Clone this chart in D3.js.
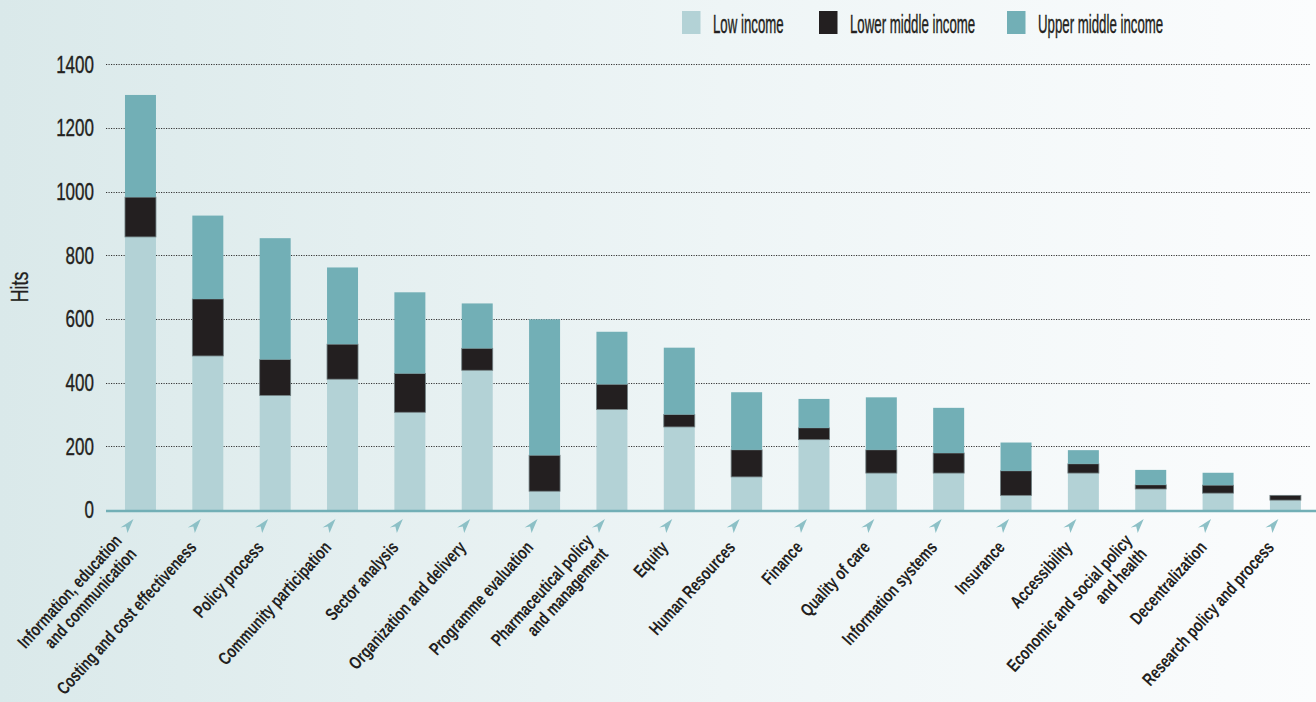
<!DOCTYPE html>
<html>
<head>
<meta charset="utf-8">
<script src="https://cdn.jsdelivr.net/npm/d3@7"></script>
<style>
  html, body { margin: 0; padding: 0; background: #ffffff; }
  svg { display: block; }
</style>
</head>
<body>
<svg id="chart" width="1316" height="702"></svg>
<script>
// ---- data ----
const categories = [
  ["Information, education", "and communication"],
  ["Costing and cost effectiveness"],
  ["Policy process"],
  ["Community participation"],
  ["Sector analysis"],
  ["Organization and delivery"],
  ["Programme evaluation"],
  ["Pharmaceutical policy", "and management"],
  ["Equity"],
  ["Human Resources"],
  ["Finance"],
  ["Quality of care"],
  ["Information systems"],
  ["Insurance"],
  ["Accessibility"],
  ["Economic and social policy", "and health"],
  ["Decentralization"],
  ["Research policy and process"]
];
const lowIncome         = [858, 484, 360, 411, 307, 439, 59, 316, 261, 104, 221, 116, 116, 46, 116, 66, 53, 31];
const lowerMiddleIncome = [125, 179, 113, 110, 122, 69, 113, 79, 39, 85, 37, 73, 63, 77, 29, 13, 25, 15];
const upperMiddleIncome = [321, 262, 381, 241, 255, 141, 427, 165, 210, 181, 91, 165, 142, 89, 43, 47, 39, 0];
const seriesNames = ["Low income", "Lower middle income", "Upper middle income"];
const yTicks = [0, 200, 400, 600, 800, 1000, 1200, 1400];
const yLabel = "Hits";

// ---- styling ----
const colors = ["#b3d2d6", "#231f20", "#72afb6"];
const FONT = "'Liberation Sans Narrow', 'Liberation Sans', Arial, sans-serif";
const W = 1316, H = 702;
const svg = d3.select("#chart");

// background gradient
const defs = svg.append("defs");
const grad = defs.append("linearGradient").attr("id", "bg").attr("x1", "0").attr("x2", "1").attr("y1", "0").attr("y2", "0");
grad.append("stop").attr("offset", "0%").attr("stop-color", "#dae9ea");
grad.append("stop").attr("offset", "55%").attr("stop-color", "#eef5f6");
grad.append("stop").attr("offset", "100%").attr("stop-color", "#fbfcfd");
svg.append("rect").attr("width", W).attr("height", H).attr("fill", "url(#bg)");

// ---- scales ----
const x = d3.scaleBand()
  .domain(d3.range(categories.length))
  .range([106.8, 1319.1])
  .paddingInner(0.54)
  .paddingOuter(0.27);
const y = d3.scaleLinear().domain([0, 1400]).range([510, 64.4]);

// ---- gridlines ----
svg.append("g").selectAll("line")
  .data(yTicks.filter(d => d > 0))
  .join("line")
  .attr("x1", 106).attr("x2", 1311)
  .attr("y1", d => Math.round(y(d)) + 0.5).attr("y2", d => Math.round(y(d)) + 0.5)
  .attr("stroke", "#333")
  .attr("stroke-width", 1)
  .attr("stroke-dasharray", "1.2,1.3");

// ---- y tick labels ----
const yt = svg.append("g").selectAll("g")
  .data(yTicks)
  .join("g")
  .attr("transform", d => `translate(94,${y(d)})`);
yt.append("text")
  .attr("transform", "scale(0.74,1)")
  .attr("text-anchor", "end")
  .attr("dy", "0.36em")
  .attr("font-family", FONT)
  .attr("font-size", 23)
  .attr("fill", "#231f20")
  .attr("stroke", "#231f20")
  .attr("stroke-width", 0.35)
  .text(d => d);

// y axis title
svg.append("text")
  .attr("transform", `translate(28,287) rotate(-90) scale(0.74,1)`)
  .attr("text-anchor", "middle")
  .attr("font-family", FONT)
  .attr("font-size", 24)
  .attr("fill", "#231f20")
  .attr("stroke", "#231f20")
  .attr("stroke-width", 0.3)
  .text(yLabel);

// ---- stacked bars ----
const rows = categories.map((c, i) => ({ i, s0: lowIncome[i], s1: lowerMiddleIncome[i], s2: upperMiddleIncome[i] }));
const stack = d3.stack().keys(["s0", "s1", "s2"]);
const stacked = stack(rows);

const layers = svg.append("g").selectAll("g")
  .data(stacked)
  .join("g")
  .attr("fill", (d, k) => colors[k]);
layers.selectAll("rect")
  .data(d => d.filter(p => p[1] - p[0] > 0))
  .join("rect")
  .attr("x", d => x(d.data.i))
  .attr("width", x.bandwidth())
  .attr("y", d => y(d[1]))
  .attr("height", d => y(d[0]) - y(d[1]));

// thin separators at the dark segment boundaries
layers.filter((d, k) => k === 1).selectAll("rect")
  .attr("stroke", "#6f7e80").attr("stroke-width", 0.8);

// ---- baseline ----
svg.append("line")
  .attr("x1", 106).attr("x2", W)
  .attr("y1", y(0) + 1).attr("y2", y(0) + 1)
  .attr("stroke", "#72afb6").attr("stroke-width", 2.6);

// ---- arrow ticks ----
svg.append("g").selectAll("path")
  .data(d3.range(categories.length))
  .join("path")
  .attr("transform", i => `translate(${x(i) + x.bandwidth() / 2},0)`)
  .attr("d", "M-7,519 L-20,527.5 L-14.5,526.5 L-13,533 Z")
  .attr("fill", "#8cc0c6");

// ---- category labels ----
const lh = 20;
const lab = svg.append("g").selectAll("text")
  .data(categories)
  .join("text")
  .attr("transform", (d, i) => `translate(${x(i) + x.bandwidth() / 2 - 15},544) rotate(-48) scale(0.75,1)`)
  .attr("text-anchor", "end")
  .attr("font-family", FONT)
  .attr("font-weight", "bold")
  .attr("font-size", 18)
  .attr("fill", "#231f20");
lab.each(function(lines) {
  const t = d3.select(this);
  lines.forEach((ln, j) => {
    t.append("tspan")
      .attr("x", 0)
      .attr("y", (j - (lines.length - 1) / 2) * lh)
      .attr("dy", "0.35em")
      .text(ln);
  });
});

// ---- legend ----
const legendX = [682, 819, 1007];
const lg = svg.append("g").selectAll("g")
  .data(seriesNames)
  .join("g")
  .attr("transform", (d, k) => `translate(${legendX[k]},0)`);
lg.append("rect")
  .attr("x", 0).attr("y", 11).attr("width", 18.5).attr("height", 23)
  .attr("fill", (d, k) => colors[k]);
lg.append("text")
  .attr("transform", "translate(31,33) scale(0.53,1)")
  .attr("font-family", FONT)
  .attr("font-size", 25)
  .attr("fill", "#231f20")
  .attr("stroke", "#231f20")
  .attr("stroke-width", 0.4)
  .text(d => d);
</script>
</body>
</html>
